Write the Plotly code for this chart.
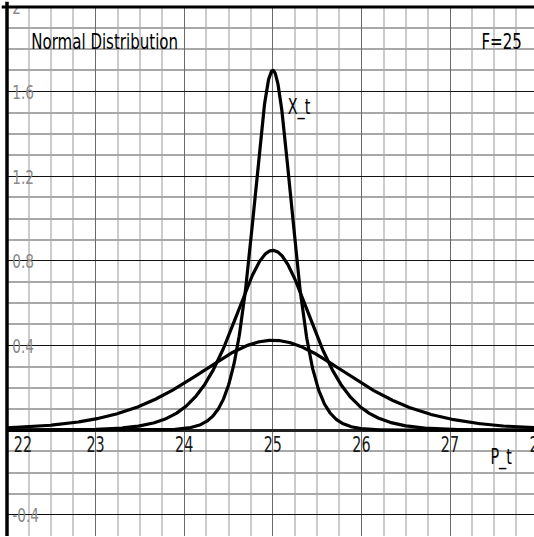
import numpy as np
import plotly.graph_objects as go

# ---- data ----
center_F = 25                      # F=25
rates_k = [6.8, 3.4, 1.7]          # curve steepness (peaks 1.7, 0.85, 0.425)
x_tick_values = [22, 23, 24, 25, 26, 27, 28]
x_tick_labels = ["22", "23", "24", "25", "26", "27", "28"]
y_tick_values = [-0.4, 0.4, 0.8, 1.2, 1.6, 2.0]
y_tick_labels = ["-0.4", "0.4", "0.8", "1.2", "1.6", "2"]

X_MIN, X_MAX = 22.0, 27.948
Y_MIN, Y_MAX = -0.5, 2.0

FONT = "DejaVu Sans Condensed, DejaVu Sans, sans-serif"

xs = np.linspace(21.9, 28.1, 1241)

fig = go.Figure()
for k in rates_k:
    e = np.exp(-k * (xs - center_F))
    ys = k * e / (1 + e) ** 2
    fig.add_trace(go.Scatter(x=xs, y=ys, mode="lines",
                             line=dict(color="black", width=3.2),
                             hoverinfo="skip", showlegend=False))

xl_pos = [v + (0.18 if v == X_MIN else 0.0) for v in x_tick_values]
fig.add_trace(go.Scatter(x=xl_pos, y=[-0.078] * len(x_tick_values),
                         text=x_tick_labels, mode="text",
                         textposition="middle center",
                         textfont=dict(family=FONT, size=21, color="#1a1a1a"),
                         cliponaxis=True, showlegend=False, hoverinfo="skip"))
fig.add_trace(go.Scatter(x=[X_MIN + 0.06] * len(y_tick_values),
                         y=[v - 0.011 for v in y_tick_values],
                         text=y_tick_labels, mode="text",
                         textposition="middle right",
                         textfont=dict(family=FONT, size=20, color="#8a8a8a"),
                         cliponaxis=True, showlegend=False, hoverinfo="skip"))

def ann(text, x, y, size):
    return dict(text=text, x=x, y=y, xref="x", yref="y", xanchor="center",
                yanchor="middle", showarrow=False,
                font=dict(family=FONT, size=size, color="black"))

fig.update_layout(
    width=534, height=537, autosize=False,
    margin=dict(l=7, r=0, t=7, b=1, pad=0),
    paper_bgcolor="white", plot_bgcolor="white",
    showlegend=False,
    font=dict(family=FONT, color="black"),
    xaxis=dict(range=[X_MIN, X_MAX], tick0=22, dtick=1,
               showgrid=True, gridcolor="#6a6a6a", gridwidth=1.3,
               minor=dict(tick0=22, dtick=0.25, showgrid=True,
                          gridcolor="#cccccc", gridwidth=1.6),
               showticklabels=False, ticks="", zeroline=False,
               showline=False, fixedrange=True),
    yaxis=dict(range=[Y_MIN, Y_MAX], tick0=0, dtick=0.4,
               showgrid=True, gridcolor="#111111", gridwidth=1.3,
               minor=dict(tick0=0, dtick=0.1, showgrid=True,
                          gridcolor="#a8a8a8", gridwidth=1.5),
               showticklabels=False, ticks="", zeroline=True,
               zerolinecolor="#222222", zerolinewidth=2.5,
               showline=False, fixedrange=True),
    annotations=[
        ann("Normal Distribution", 23.10, 1.839, 22),
        ann("F=25", 27.576, 1.839, 22),
        ann("X_t", 25.296, 1.527, 21),
        ann("P_t", 27.576, -0.127, 21),
    ],
    shapes=[
        dict(type="line", xref="paper", yref="paper", x0=0, x1=0, y0=0, y1=1.01,
             line=dict(color="black", width=3.5)),
        dict(type="line", xref="paper", yref="paper", x0=-0.01, x1=1, y0=1, y1=1,
             line=dict(color="black", width=3)),
    ],
)

post = """
document.body.style.margin='0';document.body.style.overflow='hidden';
var gd = document.getElementById('{plot_id}');
gd.querySelectorAll('svg text').forEach(function(t){
  var a = t.getAttribute('text-anchor') || 'start';
  var o = a === 'middle' ? 'center' : (a === 'end' ? 'right' : 'left');
  t.style.transformBox = 'fill-box';
  t.style.transformOrigin = o + ' center';
  t.style.transform = 'scaleX(0.76)';
});
"""

fig.write_html("out.html", config={"displayModeBar": False}, post_script=post)
